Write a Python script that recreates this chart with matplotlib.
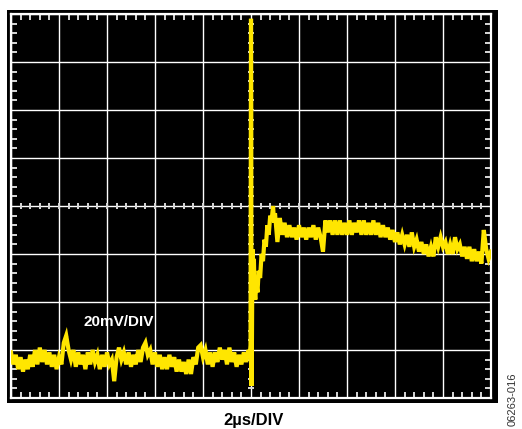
import numpy as np
import matplotlib
matplotlib.use("Agg")
import matplotlib.pyplot as plt
from matplotlib.patches import Rectangle
from matplotlib.ticker import MultipleLocator, NullFormatter

# scope settings: 2us/DIV, 20mV/DIV, 10 x 8 divisions
us_per_div = 2
mv_per_div = 20

# trace, mV
# flat part before the edge, one sample every 0.1us from -10us
base_mv = [-61, -66, -62, -68, -63, -69, -64, -68, -62, -67,
           -60, -66, -59, -65, -60, -66, -61, -67, -62, -68,
           -63, -66, -57, -54, -60, -64, -60, -67, -61, -66,
           -62, -68, -61, -66, -60, -65, -62, -68, -62, -67,
           -61, -66, -64, -73, -63, -59, -64, -61, -66, -61,
           -67, -62, -66, -60, -65, -59, -57, -62, -60, -66,
           -61, -67, -62, -68, -63, -68, -62, -67, -63, -69,
           -64, -69, -65, -70, -64, -70, -63, -66, -59, -58,
           -63, -60, -66, -61, -67, -61, -65, -59, -64, -60,
           -66, -59, -65, -61, -67, -62, -66, -61, -65, -60]

# the edge itself, uneven sample times in us
edge_t = [-0.05, -0.02, 0.0, 0.01, 0.02, 0.04, 0.06, 0.09, 0.12, 0.15,
          0.18, 0.22, 0.27, 0.32, 0.38, 0.44, 0.50, 0.56, 0.62, 0.68,
          0.74, 0.80, 0.86, 0.92, 0.96]
edge_mv = [-62, -58, 78, 40, -75, -55, -18, -28, -22, -36,
           -39, -32, -36, -27, -30, -20, -23, -14, -17, -8,
           -12, -4, -6, 0, -7]

# settling part, one sample every 0.1us from 1us to 10us
tail_mv = [-3, -15, -5, -12, -7, -13, -8, -13, -9, -14,
           -8, -13, -9, -14, -9, -13, -8, -14, -9, -13,
           -19, -6, -11, -6, -12, -6, -12, -6, -12, -7,
           -12, -6, -12, -7, -11, -6, -12, -6, -12, -7,
           -12, -6, -12, -7, -13, -8, -13, -9, -14, -10,
           -15, -11, -16, -12, -16, -12, -17, -11, -17, -14,
           -19, -15, -20, -16, -21, -17, -21, -13, -17, -13,
           -17, -15, -20, -16, -20, -13, -18, -16, -21, -17,
           -22, -17, -23, -18, -23, -19, -24, -10, -18, -22,
           -19]

base_t = np.round(np.arange(len(base_mv)) * 0.1 - 10, 2)
tail_t = np.round(np.arange(len(tail_mv)) * 0.1 + 1, 2)

t = np.concatenate([base_t, edge_t, tail_t])
v = np.concatenate([base_mv, edge_mv, tail_mv])

fig = plt.figure(figsize=(5.22, 4.29), dpi=100)
fig.patch.set_facecolor("white")

# black screen surround
fig.patches.append(Rectangle((7 / 522, 1 - 403 / 429), 491 / 522, 393 / 429,
                             transform=fig.transFigure, facecolor="black",
                             edgecolor="none", zorder=-1))

ax = fig.add_axes([11 / 522, 1 - 398 / 429, 480 / 522, 384 / 429])
ax.set_zorder(1)
ax.set_facecolor("black")
ax.set_xlim(-5 * us_per_div, 5 * us_per_div)
ax.set_ylim(-4 * mv_per_div, 4 * mv_per_div)

ax.xaxis.set_major_locator(MultipleLocator(us_per_div))
ax.yaxis.set_major_locator(MultipleLocator(mv_per_div))
ax.xaxis.set_minor_locator(MultipleLocator(us_per_div / 5))
ax.yaxis.set_minor_locator(MultipleLocator(mv_per_div / 5))
ax.xaxis.set_major_formatter(NullFormatter())
ax.yaxis.set_major_formatter(NullFormatter())
ax.tick_params(which="major", length=0)
ax.tick_params(which="minor", direction="in", length=4, width=1.4,
               color="#d8d8d8", top=True, right=True)

ax.grid(which="major", color="white", linewidth=1.0)
for s in ax.spines.values():
    s.set_color("white")
    s.set_linewidth(1.6)

# tick marks along the centre cross
xm = np.arange(-5 * us_per_div, 5 * us_per_div + 0.01, us_per_div / 5)
ym = np.arange(-4 * mv_per_div, 4 * mv_per_div + 0.01, mv_per_div / 5)
ax.plot(xm, np.zeros_like(xm), ls="none", marker="|", ms=5, mew=1.4,
        color="#d8d8d8", zorder=2)
ax.plot(np.zeros_like(ym), ym, ls="none", marker="_", ms=5, mew=1.4,
        color="#d8d8d8", zorder=2)

ax.plot(t, v, color="#ffe600", linewidth=3.0, solid_joinstyle="miter",
        zorder=3)

ax.text(-5.5, -48.3, "20mV/DIV", color="white", fontsize=11,
        fontweight="bold", family="Liberation Sans", ha="center", va="center")

fig.text(254 / 522, 1 - 420 / 429, "2µs/DIV", color="black", fontsize=12,
         fontweight="bold", family="Liberation Sans", ha="center", va="center")
fig.text(513 / 522, 1 - 399 / 429, "06263-016", color="#333333", fontsize=8,
         family="Liberation Sans", rotation=90, ha="center", va="center")

fig.savefig("out.png", dpi=100)
